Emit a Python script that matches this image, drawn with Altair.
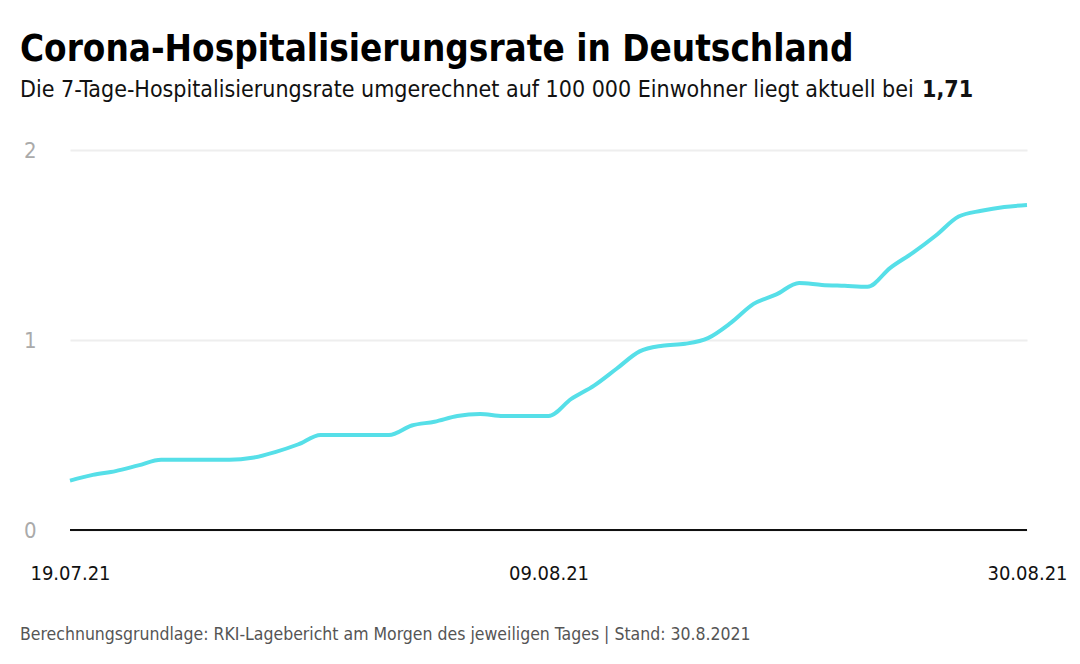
import altair as alt
import pandas as pd

# ---- data ----
dates = pd.date_range("2021-07-19", "2021-08-30", freq="D").strftime("%Y-%m-%dT00:00:00").tolist()
values = [0.26, 0.29, 0.31, 0.34, 0.37, 0.37, 0.37, 0.37, 0.38, 0.41,
          0.45, 0.50, 0.50, 0.50, 0.50, 0.55, 0.57, 0.60, 0.61, 0.60,
          0.60, 0.60, 0.69, 0.76, 0.85, 0.94, 0.97, 0.98, 1.01, 1.09,
          1.19, 1.24, 1.30, 1.29, 1.285, 1.28, 1.38, 1.46, 1.55, 1.65,
          1.68, 1.70, 1.71]
y_ticks = [0.0, 1.0, 2.0]
x_tick_dates = [(2021, 7, 19), (2021, 8, 9), (2021, 8, 30)]

title_text = "Corona-Hospitalisierungsrate in Deutschland"
subtitle_text = "Die 7-Tage-Hospitalisierungsrate umgerechnet auf 100 000 Einwohner liegt aktuell bei"
current_value = "1,71"
footer_text = "Berechnungsgrundlage: RKI-Lagebericht am Morgen des jeweiligen Tages | Stand: 30.8.2021"

df = pd.DataFrame({"date": dates, "rate": values})

FONT = "DejaVu Sans Condensed"
W, H = 969, 380

x_scale = alt.Scale(
    domain=[alt.DateTime(year=2021, month=7, date=19), alt.DateTime(year=2021, month=8, date=30)],
    range=[12, W],
)
y_scale = alt.Scale(domain=[0, 2])

baseline_df = pd.DataFrame({"start": [dates[0]], "end": [dates[-1]], "y": [0]})
baseline = alt.Chart(baseline_df).mark_rule(color="#111111", strokeWidth=2).encode(
    x=alt.X("start:T", scale=x_scale, axis=None),
    x2="end:T",
    y=alt.Y("y:Q", scale=y_scale, axis=None),
)

line = alt.Chart(df).mark_line(color="#56dfe8", strokeWidth=4, interpolate="monotone").encode(
    x=alt.X(
        "date:T",
        scale=x_scale,
        axis=alt.Axis(
            values=[alt.DateTime(year=y, month=m, date=d) for (y, m, d) in x_tick_dates],
            format="%d.%m.%y",
            title=None,
            domain=False,
            ticks=False,
            grid=False,
            labelFlush=False,
            labelOverlap=False,
            labelFont=FONT,
            labelFontSize=20,
            labelColor="#111111",
            labelPadding=33,
        ),
    ),
    y=alt.Y(
        "rate:Q",
        scale=y_scale,
        axis=alt.Axis(
            values=y_ticks,
            labelExpr="'' + round(datum.value)",
            title=None,
            domain=False,
            ticks=False,
            grid=True,
            gridColor="#eeeeee",
            gridWidth=2,
            labelOverlap=False,
            labelFont=FONT,
            labelFontSize=22,
            labelColor="#aaaaaa",
            labelPadding=22,
        ),
    ),
)

title_df = pd.DataFrame({"t": [title_text]})
title_mark = alt.Chart(title_df).mark_text(
    font=FONT, fontSize=36.5, fontWeight="bold", align="left", baseline="alphabetic", color="#000000"
).encode(text="t:N", x=alt.value(-38), y=alt.value(-89))

subtitle_df = pd.DataFrame({"t": [subtitle_text]})
subtitle_mark = alt.Chart(subtitle_df).mark_text(
    font=FONT, fontSize=23, align="left", baseline="alphabetic", color="#111111"
).encode(text="t:N", x=alt.value(-38), y=alt.value(-53))

value_df = pd.DataFrame({"t": [current_value]})
value_text = alt.Chart(value_df).mark_text(
    font=FONT, fontSize=23, fontWeight="bold", align="left", baseline="alphabetic", color="#111111"
).encode(text="t:N", x=alt.value(864), y=alt.value(-53))

footer_df = pd.DataFrame({"t": [footer_text]})
footer = alt.Chart(footer_df).mark_text(
    font=FONT, fontSize=17.5, align="left", baseline="alphabetic", color="#555555"
).encode(text="t:N", x=alt.value(-38), y=alt.value(H + 110))

chart = (
    alt.layer(line, baseline, title_mark, subtitle_mark, value_text, footer)
    .resolve_axis(x="independent", y="independent")
    .properties(
        width=W,
        height=H,
        background="white",
        autosize=alt.AutoSizeParams(type="none"),
        padding={"left": 50, "top": 142, "right": 45, "bottom": 125},
    )
    .configure_view(stroke=None)
)

chart.save("out.html", embed_options={"renderer": "svg", "actions": False})
